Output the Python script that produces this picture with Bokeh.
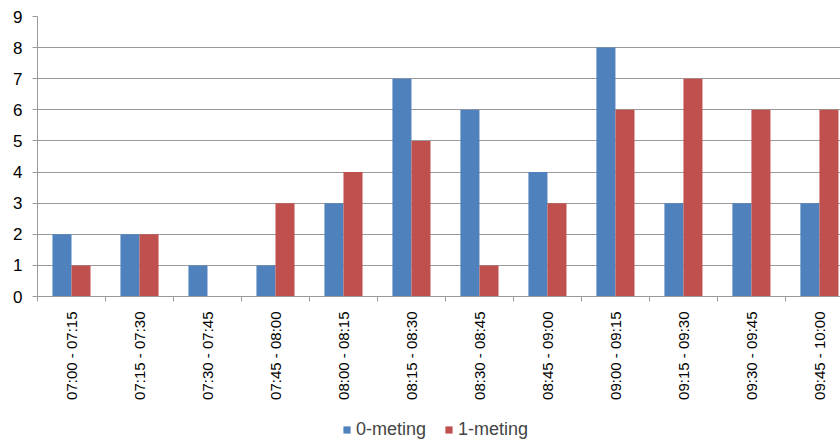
import math
from bokeh.plotting import figure
from bokeh.layouts import column
from bokeh.models import ColumnDataSource, FixedTicker, Range1d, Legend, LegendItem
from bokeh.embed import file_html
from bokeh.resources import INLINE

categories = ["07:00 - 07:15", "07:15 - 07:30", "07:30 - 07:45", "07:45 - 08:00",
              "08:00 - 08:15", "08:15 - 08:30", "08:30 - 08:45", "08:45 - 09:00",
              "09:00 - 09:15", "09:15 - 09:30", "09:30 - 09:45", "09:45 - 10:00"]
meting0 = [2, 2, 1, 1, 3, 7, 6, 4, 8, 3, 3, 3]
meting1 = [1, 2, 0, 3, 4, 5, 1, 3, 6, 7, 6, 6]
series_names = ["0-meting", "1-meting"]
y_ticks = [0, 1, 2, 3, 4, 5, 6, 7, 8, 9]

BLUE = "#4F81BD"
RED = "#C0504D"
GRID = "#9a9a9a"
FONT = "Liberation Sans"

idx = list(range(len(categories)))
bw = 0.28
src = ColumnDataSource(dict(
    x0=[i - bw / 2 for i in idx], x1=[i + bw / 2 for i in idx],
    m0=meting0, m1=meting1))

p = figure(frame_width=803, frame_height=280, output_backend="svg", toolbar_location=None,
           x_range=Range1d(-0.5, 11.31), y_range=Range1d(0, 9),
           min_border_left=37, min_border_right=0, min_border_top=16, min_border_bottom=120)
p.outline_line_color = None
p.background_fill_color = "white"

p.vbar(x="x0", top="m0", width=bw, source=src, fill_color=BLUE, line_color=None)
p.vbar(x="x1", top="m1", width=bw, source=src, fill_color=RED, line_color=None)

# x axis: labels at centres, tick marks at boundaries
xt = FixedTicker(ticks=idx, minor_ticks=[i - 0.5 for i in range(len(categories) + 1)])
p.xaxis.ticker = xt
p.xaxis.major_label_overrides = {i: c for i, c in enumerate(categories)}
p.xaxis.major_label_orientation = math.pi / 2
p.xaxis.major_tick_out = 0
p.xaxis.major_tick_in = 0
p.xaxis.minor_tick_out = 5
p.xaxis.minor_tick_in = 0
p.xaxis.minor_tick_line_color = GRID
p.xaxis.axis_line_color = GRID
p.xaxis.major_label_text_font = FONT
p.xaxis.major_label_text_font_size = "15px"
p.xaxis.major_label_text_color = "black"
p.xaxis.major_label_standoff = 10

p.yaxis.ticker = FixedTicker(ticks=y_ticks)
p.yaxis.major_tick_out = 5
p.yaxis.major_tick_in = 0
p.yaxis.minor_tick_line_color = None
p.yaxis.major_tick_line_color = GRID
p.yaxis.axis_line_color = GRID
p.yaxis.major_label_text_font = FONT
p.yaxis.major_label_text_font_size = "17px"
p.yaxis.major_label_text_color = "black"
p.yaxis.major_label_standoff = 10

p.xgrid.grid_line_color = None
p.ygrid.grid_line_color = GRID
p.ygrid.grid_line_width = 1

# legend strip below the chart (its bars lie outside this strip's view)
lg = figure(width=840, height=25, output_backend="svg", toolbar_location=None,
            x_axis_type=None, y_axis_type=None,
            x_range=Range1d(-0.5, 11.31), y_range=Range1d(100, 101),
            min_border_left=0, min_border_right=0, min_border_top=0, min_border_bottom=0)
lg.outline_line_color = None
lg.xgrid.grid_line_color = None
lg.ygrid.grid_line_color = None
l0 = lg.vbar(x="x0", top="m0", width=bw, source=src, fill_color=BLUE, line_color=None)
l1 = lg.vbar(x="x1", top="m1", width=bw, source=src, fill_color=RED, line_color=None)

legend = Legend(items=[LegendItem(label=series_names[0], renderers=[l0]),
                       LegendItem(label=series_names[1], renderers=[l1])],
                orientation="horizontal", location=(305, 1),
                glyph_width=9, glyph_height=9, label_text_font=FONT,
                label_text_font_size="18px", label_standoff=5, spacing=18,
                padding=0, margin=0, border_line_color=None,
                background_fill_alpha=0)
lg.add_layout(legend)

layout = column(p, lg, spacing=0)
open("out.html", "w").write(file_html(layout, INLINE))
